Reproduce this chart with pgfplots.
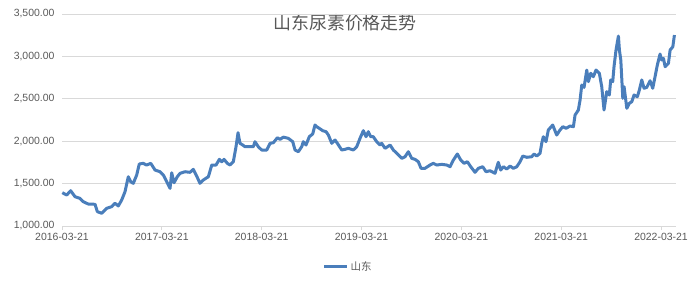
\documentclass[border=0pt]{standalone}
\usepackage{pgfplots}
\pgfplotsset{compat=1.18}
\usepackage{fontspec}
\setmainfont{Liberation Sans}
\newfontfamily\cjk{Noto Sans CJK SC}
\definecolor{lineblue}{HTML}{4A7EBB}
\definecolor{gridgray}{HTML}{D9D9D9}
\definecolor{txtgray}{HTML}{595959}
\begin{document}
\begin{tikzpicture}[x=1bp,y=1bp]
\useasboundingbox (0,0) rectangle (690,288);
\node[text=txtgray, font=\cjk\fontsize{18}{21}\selectfont] at (345,265) {山东尿素价格走势};
\begin{axis}[
  at={(62bp,62bp)}, anchor=south west,
  scale only axis, width=614bp, height=212bp,
  xmin=0, xmax=6.15, ymin=1000, ymax=3500,
  axis x line*=bottom, axis y line*=left,
  x axis line style={-, draw=gridgray, line width=1bp},
  y axis line style={draw=none},
  ytick={1000,1500,2000,2500,3000,3500},
  xtick={0,1,2,3,4,5,6},
  xticklabels={2016-03-21,2017-03-21,2018-03-21,2019-03-21,2020-03-21,2021-03-21,2022-03-21},
  ymajorgrids, grid style={gridgray, line width=1bp},
  ytick style={draw=none},
  xtick style={draw=gridgray, line width=1bp},
  tick align=outside, major tick length=4bp,
  /pgf/number format/assume math mode=true,
  yticklabel style={/pgf/number format/.cd, fixed, fixed zerofill, precision=2, 1000 sep={,}},
  scaled y ticks=false,
  tick label style={text=txtgray, font=\fontsize{10.5}{12}\selectfont},
  legend style={at={(0.466,-0.193)}, anchor=center, draw=none, fill=none,
    font=\cjk\fontsize{10.5}{12}\selectfont, text=txtgray},
  legend image code/.code={\draw[#1] (0bp,0bp) -- (23bp,0bp);},
  clip=false,
]
\addplot[lineblue, line width=3bp, line join=round] coordinates {
(0.003,1393) (0.047,1365) (0.087,1416) (0.130,1346) (0.180,1326) (0.213,1287)
(0.263,1259) (0.331,1256) (0.354,1169) (0.398,1150) (0.448,1209) (0.498,1228)
(0.531,1268) (0.564,1236) (0.598,1307) (0.631,1404) (0.664,1581) (0.688,1522)
(0.714,1503) (0.748,1601) (0.774,1731) (0.814,1739) (0.848,1719) (0.889,1739)
(0.932,1660) (0.982,1640) (1.015,1601) (1.049,1522) (1.082,1444) (1.099,1628)
(1.122,1510) (1.155,1581) (1.182,1621) (1.232,1640) (1.282,1633) (1.315,1668)
(1.349,1589) (1.382,1503) (1.415,1542) (1.466,1581) (1.500,1719) (1.543,1719)
(1.576,1786) (1.600,1758) (1.623,1786) (1.656,1739) (1.683,1719) (1.716,1758)
(1.743,1935) (1.763,2100) (1.783,1975) (1.810,1955) (1.833,1935) (1.916,1935)
(1.933,1994) (1.966,1935) (2.000,1896) (2.051,1896) (2.084,1975) (2.117,1982)
(2.157,2041) (2.184,2022) (2.217,2048) (2.267,2034) (2.311,1994) (2.334,1896)
(2.367,1876) (2.401,1935) (2.417,1994) (2.444,1955) (2.477,2053) (2.511,2085)
(2.534,2191) (2.551,2171) (2.577,2152) (2.611,2124) (2.645,2112) (2.668,2073)
(2.702,1975) (2.735,2014) (2.758,1975) (2.802,1896) (2.835,1904) (2.868,1916)
(2.918,1896) (2.952,1935) (2.985,2034) (3.018,2124) (3.045,2053) (3.068,2112)
(3.092,2053) (3.118,2053) (3.152,1994) (3.185,1955) (3.202,1975) (3.236,1916)
(3.286,1955) (3.319,1896) (3.353,1857) (3.403,1798) (3.436,1817) (3.469,1876)
(3.503,1798) (3.536,1786) (3.569,1758) (3.596,1680) (3.636,1680) (3.686,1719)
(3.719,1739) (3.753,1719) (3.803,1727) (3.854,1719) (3.887,1699) (3.920,1778)
(3.960,1849) (3.994,1778) (4.027,1739) (4.060,1758) (4.094,1699) (4.137,1633)
(4.170,1680) (4.214,1699) (4.247,1640) (4.287,1652) (4.337,1621) (4.370,1751)
(4.394,1660) (4.421,1699) (4.455,1672) (4.488,1707) (4.521,1680) (4.555,1699)
(4.588,1758) (4.615,1825) (4.655,1810) (4.705,1817) (4.728,1849) (4.755,1825)
(4.788,1857) (4.805,1975) (4.821,2053) (4.848,1994) (4.871,2132) (4.915,2191)
(4.955,2073) (4.988,2132) (5.016,2171) (5.049,2152) (5.089,2179) (5.122,2171)
(5.139,2309) (5.172,2368) (5.189,2486) (5.206,2662) (5.229,2635) (5.256,2839)
(5.272,2702) (5.296,2801) (5.322,2761) (5.349,2839) (5.382,2801) (5.406,2643)
(5.429,2368) (5.456,2584) (5.482,2545) (5.496,2722) (5.516,2702) (5.529,2878)
(5.549,3075) (5.573,3240) (5.583,3075) (5.597,2957) (5.617,2506) (5.630,2643)
(5.657,2388) (5.683,2447) (5.707,2466) (5.730,2545) (5.763,2525) (5.783,2604)
(5.807,2722) (5.830,2624) (5.857,2635) (5.890,2713) (5.917,2624) (5.940,2761)
(5.963,2898) (5.990,3028) (6.007,2957) (6.024,2977) (6.041,2878) (6.074,2918)
(6.091,3075) (6.118,3114) (6.134,3252)
};
\addlegendentry{山东}
\end{axis}
\end{tikzpicture}
\end{document}
